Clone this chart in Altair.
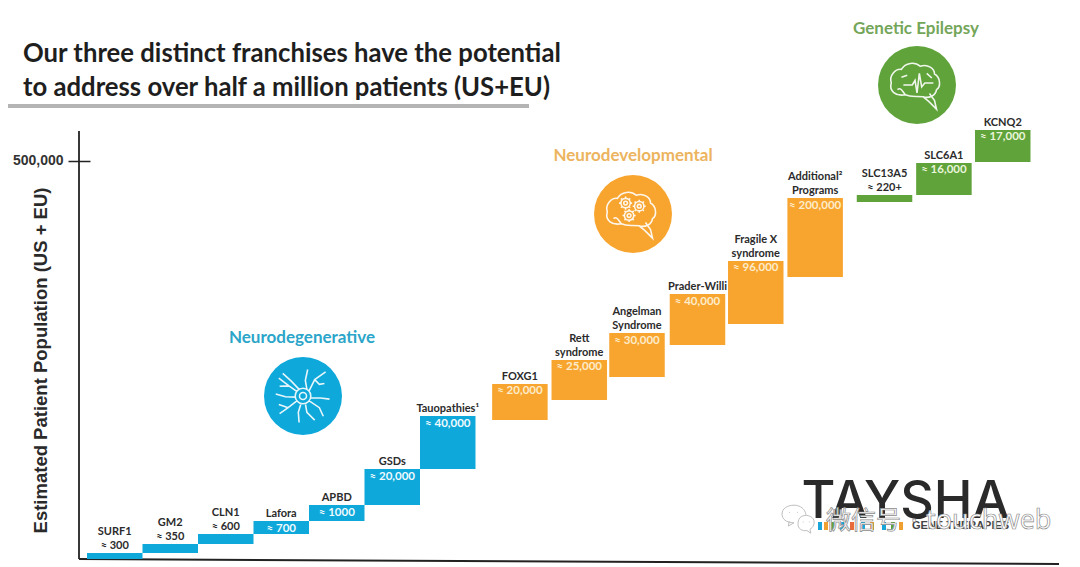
import math
import altair as alt
import pandas as pd

upper = ["SURF1", "GM2", "CLN1", "", "", "", "", "", "Rett", "Angelman", "", "Fragile X", "Additional²", "SLC13A5",
         "", ""]
lower = ["≈ 300", "≈ 350", "≈ 600", "Lafora", "APBD", "GSDs", "Tauopathies¹", "FOXG1", "syndrome", "Syndrome",
         "Prader-Willi", "syndrome", "Programs", "≈ 220+", "SLC6A1", "KCNQ2"]
inside = ["", "", "", "≈ 700", "≈ 1000", "≈ 20,000", "≈ 40,000", "≈ 20,000", "≈ 25,000", "≈ 30,000", "≈ 40,000",
          "≈ 96,000", "≈ 200,000", "", "≈ 16,000", "≈ 17,000"]
franchise = ["Neurodegenerative"] * 7 + ["Neurodevelopmental"] * 6 + ["Genetic Epilepsy"] * 3
slots = [0, 1, 2, 3, 4, 5, 6, 7.3, 8.37, 9.41, 10.5, 11.55, 12.62, 13.87, 14.94, 16.0]
lows = [0, 7500, 18800, 31400, 47700, 67800, 113000, 174600, 199700, 228600, 268800, 295200, 354300, 448500,
        457300, 498700]
highs = [7500, 18800, 31400, 47700, 67800, 113000, 179600, 219900, 250000, 283900, 332900, 374400, 453500,
         457300, 497500, 539000]

df = pd.DataFrame({"upper": upper, "lower": lower, "inside": inside, "franchise": franchise,
                   "slot": slots, "low": lows, "high": highs})
df["slot_end"] = df["slot"] + 1
df["mid"] = df["slot"] + 0.5

W, H = 1064, 558
x_scale = alt.Scale(domain=[-1.4234, 17.748], nice=False, zero=False)
y_scale = alt.Scale(domain=[-8794, 692200], nice=False, zero=False)
franchise_names = ["Neurodegenerative", "Neurodevelopmental", "Genetic Epilepsy"]
colors = alt.Scale(domain=franchise_names, range=["#0ea8da", "#f8a52f", "#5fa33a"])
value_colors = ["#eefaff", "#fdeccb", "#eaf5dc"]

bars = alt.Chart(df).mark_rect().encode(
    x=alt.X("slot:Q", scale=x_scale, axis=None),
    x2="slot_end:Q",
    y=alt.Y("low:Q", scale=y_scale, axis=alt.Axis(
        values=[500000], format=",.0f", title="Estimated Patient Population (US + EU)", offset=-82, domain=False,
        grid=False, tickSize=22, tickColor="#222222", tickWidth=1.5, labelPadding=5, labelFont="Liberation Sans",
        labelFontWeight="bold", labelFontSize=14, labelColor="#333333", titleFont="Liberation Sans",
        titleFontWeight="bold", titleFontSize=18.5, titleColor="#2a2a2a", titleX=-40, titleY=352)),
    y2="high:Q",
    color=alt.Color("franchise:N", scale=colors, legend=None),
)


def name_layer(field, dy):
    return alt.Chart(df[df[field] != ""]).mark_text(
        font="Lato", fontWeight="bold", fontSize=11, color="#2b2b2b", baseline="middle", dy=dy
    ).encode(
        x=alt.X("mid:Q", scale=x_scale, axis=None),
        y=alt.Y("high:Q", scale=y_scale),
        text=f"{field}:N",
    )


def value_layer(group, color):
    rows = df[(df["inside"] != "") & (df["franchise"] == group)]
    return alt.Chart(rows).mark_text(
        font="Lato", fontWeight="bold", fontSize=11.5, baseline="middle", dy=7.5, color=color
    ).encode(
        x=alt.X("mid:Q", scale=x_scale, axis=None),
        y=alt.Y("high:Q", scale=y_scale),
        text="inside:N",
    )


def note(text, x, y, size, color, font="Lato", weight="bold", align="left", baseline="alphabetic", **kw):
    return alt.Chart(alt.Data(values=[{"t": text}])).mark_text(
        font=font, fontWeight=weight, fontSize=size, color=color, align=align, baseline=baseline, **kw
    ).encode(x=alt.value(x - 8), y=alt.value(y - 8), text="t:N")


def line(x1, y1, x2, y2, color, width):
    return alt.Chart(alt.Data(values=[{"t": 1}])).mark_rule(color=color, strokeWidth=width).encode(
        x=alt.value(x1 - 8), x2=alt.value(x2 - 8), y=alt.value(y1 - 8), y2=alt.value(y2 - 8))


def disc(x, y, color, d=78):
    return alt.Chart(alt.Data(values=[{"t": 1}])).mark_point(
        shape="circle", size=d * d, filled=True, opacity=1, color=color
    ).encode(x=alt.value(x - 8), y=alt.value(y - 8))


def icon(path, x, y, d=78, width=1.6, color="#ffffff"):
    return alt.Chart(alt.Data(values=[{"t": 1}])).mark_point(
        shape=path, size=d * d, filled=False, opacity=0.9, color=color, strokeWidth=width
    ).encode(x=alt.value(x - 8), y=alt.value(y - 8))


def ring(cx, cy, r):
    return f"M{cx + r:.3f} {cy:.3f}A{r} {r} 0 1 0 {cx - r:.3f} {cy:.3f}A{r} {r} 0 1 0 {cx + r:.3f} {cy:.3f}"


def gear(cx, cy, r):
    teeth = ""
    for k in range(8):
        a = k * math.pi / 4
        teeth += (f"M{cx + r * math.cos(a):.3f} {cy + r * math.sin(a):.3f}"
                  f"L{cx + 1.4 * r * math.cos(a):.3f} {cy + 1.4 * r * math.sin(a):.3f}")
    return ring(cx, cy, r) + ring(cx, cy, r * 0.4) + teeth


BRAIN = ("M-.3 .25C-.55 .3 -.72 .15 -.66 -.05C-.72 -.25 -.55 -.42 -.4 -.4C-.3 -.58 -.05 -.6 .08 -.48"
         "C.28 -.55 .45 -.42 .45 -.28C.6 -.2 .62 .05 .5 .12C.48 .28 .3 .35 .15 .3L.3 .42L.5 .62L.45 .4L.32 .22"
         "M-.3 .25C-.15 .32 -.05 .28 .15 .3M-.5 .12C-.42 .05 -.38 .15 -.3 .25")
PULSE = "M-.35 0L-.12 0L-.05 -.12L0 .2L.06 -.3L.12 .05L.2 -.05L.42 -.05M-.4 -.2L-.25 -.25M.25 -.3L.38 -.18"
NEURON = (ring(0, 0, .09) + ring(0, 0, .2) +
          "M-.16 -.12L-.36 -.26L-.62 -.46M-.1 -.17L-.3 -.38L-.52 -.58M-.36 -.26L-.6 -.25"
          "M.1 -.17L.06 -.4L.12 -.68M.15 -.12L.3 -.42L.58 -.62M.3 -.42L.42 -.3L.55 -.32"
          "M.19 .05L.45 .05L.68 .08M.15 .12L.42 .3L.52 .52M.06 .19L.1 .42L.3 .62M-.05 .19L-.12 .42L-.1 .68"
          "M-.15 .12L-.38 .3L-.6 .45M-.38 .3L-.62 .22M-.19 .03L-.45 .02L-.7 -.05")
WECHAT = ("M-.25 .3C-.75 .3 -1 .05 -1 -.25C-1 -.6 -.65 -.8 -.25 -.8C.15 -.8 .45 -.55 .5 -.2"
          "M-.25 .3L-.6 .5L-.55 .2M.1 .0C.35 -.25 .75 -.2 .95 .05C1.1 .3 .95 .6 .75 .7L.8 .95L.55 .78C.25 .85 0 .65 0 .4"
          "C0 .25 .03 .1 .1 0M-.55 -.35L-.5 -.35M-.05 -.35L0 -.35M.3 .25L.35 .25M.68 .25L.73 .25")

logo_bits = [(820, "#1aa6d8"), (826, "#f0a030"), (833, "#5fa33a"), (842, "#1aa6d8"), (852, "#e86a3a"),
             (863, "#1aa6d8"), (872, "#f0a030"), (884, "#1aa6d8"), (893, "#5fa33a"), (901, "#f0a030")]

layers = [
    line(8, 106, 529, 106, "#b4b4b4", 4),
    note("Our three distinct franchises have the potential", 23, 62, 25.7, "#1e1e1e"),
    note("to address over half a million patients (US+EU)", 23, 96, 25.7, "#1e1e1e"),
    line(79, 131, 79, 559, "#222222", 1.8),
    line(79, 559, 1059, 564, "#222222", 2),
    bars,
    name_layer("upper", -21),
    name_layer("lower", -7),
]
layers += [value_layer(g, c) for g, c in zip(franchise_names, value_colors)]
layers += [
    note("Neurodegenerative", 302, 338, 17, "#2ba5c9", align="center", baseline="middle"),
    note("Neurodevelopmental", 633, 156, 17, "#ecb45e", align="center", baseline="middle"),
    note("Genetic Epilepsy", 916, 29, 17, "#74a65a", align="center", baseline="middle"),
    disc(303, 396, "#0ea8da"),
    disc(633, 214, "#f8a52f"),
    disc(917, 85, "#5fa33a"),
    icon(NEURON, 303, 396),
    icon(BRAIN + gear(-.19, -.28, .12) + gear(.16, -.2, .12) + gear(-.1, .04, .12), 633, 214),
    icon(BRAIN + PULSE, 917, 85),
    note("TAYSHA", 905.5, 518, 52, "#2a2a2a", font="Inter", weight=500, align="center"),
]
for px, col in logo_bits:
    layers.append(line(px, 522, px, 530, col, 4))
layers += [
    note("GENE THERAPIES", 912, 529, 11, "#444444", font="Liberation Sans"),
    icon(WECHAT, 798, 518, d=32, width=1, color="#b8b8b8"),
    note("微信号", 826, 529, 25, "#ffffff", font="Noto Sans CJK SC", weight="normal",
         stroke="#8c8c8c", strokeWidth=0.7),
    note("·", 911, 529, 24, "#ffffff", font="Noto Sans", weight="normal", stroke="#8c8c8c", strokeWidth=0.7),
    note("touchweb", 926, 529, 27, "#ffffff", font="Noto Sans", weight="normal", stroke="#8c8c8c", strokeWidth=0.7),
]

chart = alt.layer(*layers).properties(
    width=W, height=H, padding=0, autosize=alt.AutoSizeParams(type="none"), background="#ffffff"
).configure_view(stroke=None)

chart.save("out.html", embed_options={"renderer": "svg", "actions": False})
